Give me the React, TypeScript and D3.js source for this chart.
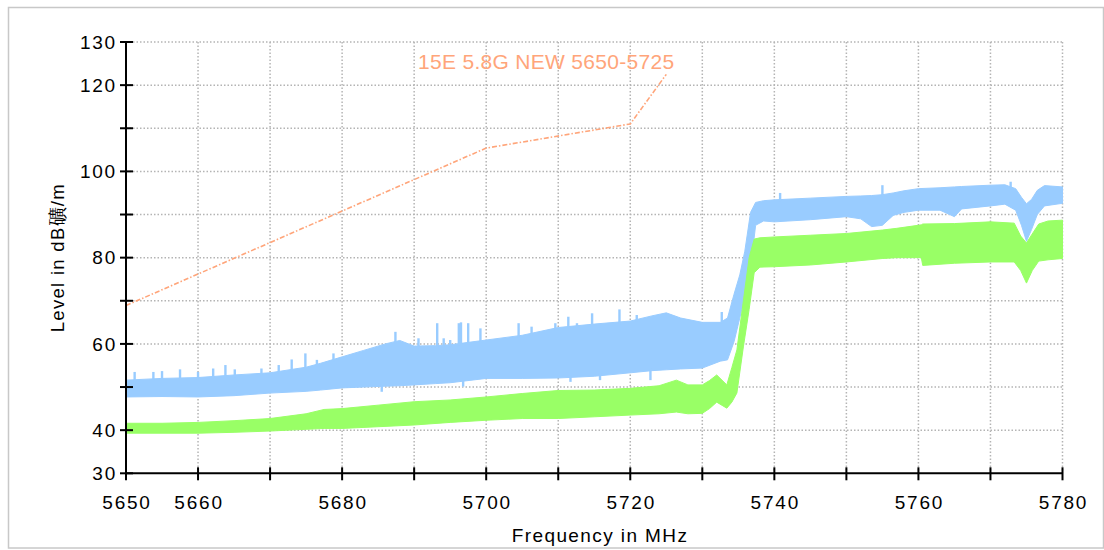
import React from "react";
import * as d3 from "d3";

// ---- Data ----
const xTickValues = [5650, 5660, 5670, 5680, 5690, 5700, 5710, 5720, 5730, 5740, 5750, 5760, 5770, 5780];
const xTickLabels = [5650, 5660, 5680, 5700, 5720, 5740, 5760, 5780];
const yTickValues = [30, 40, 50, 60, 70, 80, 90, 100, 110, 120, 130];
const yTickLabels = [30, 40, 60, 80, 100, 120, 130];

const limitFreq = [5650, 5700, 5720, 5725];
const limitLevel = [68.9, 105.4, 111.0, 122.5];
const limitTitle = "15E 5.8G NEW 5650-5725";

const blueFreq = [5650, 5655, 5660, 5665, 5670, 5675, 5677, 5680, 5683, 5686, 5688, 5690, 5693, 5695, 5700, 5705, 5710, 5715, 5720, 5723, 5725, 5727, 5730, 5732.5, 5733.5, 5734.4, 5735.2, 5735.9, 5736.7, 5737.4, 5738.5, 5740, 5745, 5750, 5752, 5753.5, 5755, 5756.5, 5758, 5760, 5763, 5765, 5766, 5770, 5772, 5773.5, 5774.3, 5775, 5775.7, 5776.5, 5777.5, 5780];
const blueLow = [47.7, 47.8, 47.7, 48.0, 48.6, 49.0, 49.3, 49.8, 50.0, 50.2, 50.3, 50.5, 50.8, 51.0, 52.0, 52.0, 52.1, 52.5, 53.3, 53.8, 54.0, 54.2, 54.4, 56.0, 56.3, 60.5, 66.0, 71.0, 77.5, 87.5, 88.5, 88.3, 88.8, 89.5, 89.0, 87.2, 87.5, 89.8, 90.5, 91.0, 91.0, 89.5, 91.3, 92.0, 92.4, 91.0, 87.5, 83.8, 86.5, 90.0, 92.0, 92.6];
const blueHigh = [51.6, 52.0, 52.2, 52.8, 53.3, 54.6, 55.5, 57.0, 58.5, 60.0, 60.8, 59.5, 59.6, 59.8, 60.9, 62.0, 63.8, 64.6, 65.3, 66.5, 67.2, 66.0, 65.0, 65.0, 66.0, 71.5, 76.0, 81.5, 90.5, 92.8, 93.2, 93.4, 93.8, 94.2, 94.3, 94.4, 94.6, 95.0, 95.5, 96.0, 96.2, 96.4, 96.5, 96.8, 96.9, 96.0, 94.0, 92.5, 93.5, 95.6, 96.7, 96.4];
const blueSpikeFreq = [5651.2, 5653.8, 5655, 5657.5, 5660, 5662.1, 5663.8, 5665.1, 5668.8, 5671.2, 5673, 5674.9, 5676.5, 5678.8, 5687.4, 5690.6, 5693.2, 5694.1, 5695, 5696.2, 5696.5, 5697.5, 5699.2, 5704.5, 5706.3, 5709.6, 5711.4, 5712.6, 5714.7, 5718.5, 5720.9, 5732.7, 5740.8, 5755, 5772.8];
const blueSpikeLevel = [53.5, 53.5, 53.7, 54.1, 53.5, 54.3, 55.1, 54.1, 54.3, 55.1, 56.4, 57.8, 56.3, 57.8, 62.8, 61.3, 64.8, 61.3, 60.9, 64.8, 65.0, 64.8, 63.6, 64.8, 64.0, 64.8, 66.3, 64.8, 67.1, 68.0, 66.7, 67.4, 95.0, 96.8, 97.6];
const blueDipFreq = [5685.5, 5696.8, 5711.7, 5715.8, 5722.8];
const blueDipLevel = [48.9, 50.1, 51.2, 51.6, 51.6];

const greenFreq = [5650, 5655, 5660, 5665, 5670, 5675, 5677.5, 5680, 5685, 5690, 5695, 5700, 5705, 5710, 5715, 5720, 5724, 5726.4, 5728, 5730, 5731, 5732, 5733.4, 5734.1, 5734.8, 5735.7, 5736.5, 5737.2, 5738, 5740, 5745, 5750, 5755, 5757, 5760.4, 5760.6, 5765, 5770, 5773.3, 5774.2, 5775, 5775.8, 5776.7, 5778, 5780];
const greenLow = [39.3, 39.3, 39.3, 39.5, 39.8, 40.2, 40.4, 40.4, 40.8, 41.2, 41.8, 42.3, 42.7, 42.7, 43.1, 43.5, 43.8, 44.2, 43.8, 43.9, 45.0, 46.5, 45.1, 46.5, 48.6, 59.3, 68.0, 76.5, 77.8, 77.9, 78.3, 79.0, 79.8, 80.0, 80.0, 78.2, 78.7, 79.0, 79.0, 77.0, 74.1, 77.0, 79.2, 79.5, 79.8];
const greenHigh = [41.6, 41.6, 41.8, 42.2, 42.7, 43.8, 44.8, 45.0, 45.8, 46.6, 47.0, 47.7, 48.5, 49.2, 49.3, 49.7, 50.3, 51.6, 50.5, 50.5, 51.5, 52.8, 50.5, 54.5, 58.6, 70.0, 80.0, 84.3, 84.6, 84.8, 85.2, 85.6, 86.4, 86.8, 87.6, 87.8, 87.9, 88.3, 88.0, 85.0, 83.4, 85.5, 87.8, 88.5, 88.7];

const BLUE = "#99ccff";
const GREEN = "#99ff66";
const ORANGE = "#ffa57a";
const FONT = "'Liberation Sans', Arial, Helvetica, sans-serif";

export default function App() {
  const x = d3.scaleLinear().domain([5650, 5780]).range([126, 1062.5]);
  const y = d3.scaleLinear().domain([30, 130]).range([473.3, 42]);

  const blueArea = d3
    .area<number>()
    .x((d) => x(d))
    .y0((_, i) => y(blueLow[i]))
    .y1((_, i) => y(blueHigh[i]));
  const greenArea = d3
    .area<number>()
    .x((d) => x(d))
    .y0((_, i) => y(greenLow[i]))
    .y1((_, i) => y(greenHigh[i]));
  const limitLine = d3
    .line<number>()
    .x((d) => x(d))
    .y((_, i) => y(limitLevel[i]));

  const blueHighAt = d3.scaleLinear().domain(blueFreq).range(blueHigh);
  const blueLowAt = d3.scaleLinear().domain(blueFreq).range(blueLow);

  const gridX = xTickValues.filter((v) => v > 5650);
  const gridY = yTickValues.filter((v) => v > 30);

  return (
    <svg
      width={1104}
      height={550}
      style={{ position: "absolute", left: 0, top: 0, background: "#fff" }}
    >
      <rect x={8.5} y={7.5} width={1095} height={540.5} fill="#fff" stroke="#c8c8c8" strokeWidth={1.5} />

      {/* grid */}
      <g stroke="#b4b4b4" strokeWidth={1.5} strokeDasharray="1.5,2">
        {gridX.map((v) => (
          <line key={"gx" + v} x1={x(v)} x2={x(v)} y1={y(130)} y2={y(30)} />
        ))}
        {gridY.map((v) => (
          <line key={"gy" + v} x1={x(5650)} x2={x(5780)} y1={y(v)} y2={y(v)} />
        ))}
      </g>

      {/* limit line */}
      <path
        d={limitLine(limitFreq) || ""}
        fill="none"
        stroke={ORANGE}
        strokeWidth={1.6}
        strokeDasharray="5,2,1.5,2"
      />
      <text x={418} y={69.3} fill={ORANGE} fontFamily={FONT} fontSize={21} letterSpacing={0.3}>
        {limitTitle}
      </text>

      {/* blue trace */}
      <path d={blueArea(blueFreq) || ""} fill={BLUE} stroke={BLUE} strokeWidth={1} />
      <g stroke={BLUE} strokeWidth={2.4}>
        {blueSpikeFreq.map((f, i) => (
          <line key={"bs" + i} x1={x(f)} x2={x(f)} y1={y(blueHighAt(f) - 0.5)} y2={y(blueSpikeLevel[i])} />
        ))}
        {blueDipFreq.map((f, i) => (
          <line key={"bd" + i} x1={x(f)} x2={x(f)} y1={y(blueLowAt(f) + 0.5)} y2={y(blueDipLevel[i])} />
        ))}
      </g>

      {/* green trace */}
      <path d={greenArea(greenFreq) || ""} fill={GREEN} stroke={GREEN} strokeWidth={1} />

      {/* axes */}
      <g stroke="#000" strokeWidth={2}>
        <line x1={x(5650)} x2={x(5650)} y1={y(130) - 1} y2={y(30)} />
        <line x1={x(5650)} x2={x(5780)} y1={y(30)} y2={y(30)} />
        {yTickValues.map((v) => (
          <line key={"yt" + v} x1={x(5650) - 6} x2={x(5650) + 7} y1={y(v)} y2={y(v)} />
        ))}
        {xTickValues.map((v) => (
          <line key={"xt" + v} x1={x(v)} x2={x(v)} y1={y(30) - 6} y2={y(30) + 7} />
        ))}
      </g>
      <g fontFamily={FONT} fontSize={19} fill="#000" letterSpacing={1.8}>
        {yTickLabels.map((v) => (
          <text key={"yl" + v} x={x(5650) - 9} y={y(v)} dy="0.36em" textAnchor="end">
            {v}
          </text>
        ))}
        {xTickLabels.map((v) => (
          <text key={"xl" + v} x={x(v) + 1} y={508.5} textAnchor="middle">
            {v}
          </text>
        ))}
      </g>
      <text x={600} y={542} textAnchor="middle" fontFamily={FONT} fontSize={19} letterSpacing={1.4}>
        Frequency in MHz
      </text>
      <text
        transform={`translate(64, ${(y(130) + y(30)) / 2}) rotate(-90)`}
        textAnchor="middle"
        fontFamily={FONT}
        fontSize={18.5}
        letterSpacing={1.3}
      >
        Level in dB礦/m
      </text>
    </svg>
  );
}
